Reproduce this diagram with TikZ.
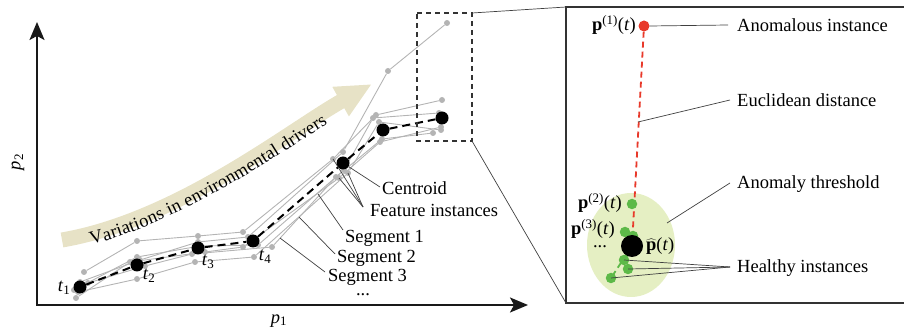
\documentclass[tikz,border=0pt]{standalone}
\usepackage{fontspec}
\setmainfont{Liberation Serif}
\usetikzlibrary{arrows.meta,decorations.text,shapes.geometric}

\definecolor{instgray}{HTML}{B4B4B4}
\definecolor{bandcol}{HTML}{E7E2C6}
\definecolor{anomred}{HTML}{E8392A}
\definecolor{healthy}{HTML}{5DB948}
\definecolor{zonecol}{HTML}{E5EFC3}
\definecolor{framegray}{HTML}{333333}

\tikzset{
  lbl/.style={font=\rmfamily\fontsize{18.5}{20}\selectfont, inner sep=0pt, anchor=base west},
  inst/.style={draw=instgray, line width=0.9pt},
  idot/.style={circle, fill=instgray, inner sep=0pt, minimum size=6pt},
  cdot/.style={circle, fill=black, inner sep=0pt, minimum size=13pt},
  gdot/.style={circle, fill=healthy, inner sep=0pt, minimum size=10.5pt},
  leader/.style={draw=black!75, line width=0.7pt},
  axisline/.style={line width=1.8pt, draw=black!90,
    {Stealth[length=18pt,width=15pt,inset=4pt]}-{Stealth[length=18pt,width=15pt,inset=4pt]}},
}

\begin{document}
\begin{tikzpicture}[x=1pt,y=-1pt]
\useasboundingbox (0,0) rectangle (904,336);

% ---------- axes ----------
\coordinate (ytip) at (37,22);
\coordinate (orig) at (37,305);
\coordinate (xtip) at (528,305);
\draw[axisline] (ytip) -- (orig) -- (xtip);
\node[font=\rmfamily\fontsize{18.5}{20}\selectfont, inner sep=0pt] (xlab) at (279,321) {\textit{p}\textsubscript{1}};
\node[font=\rmfamily\fontsize{18.5}{20}\selectfont, inner sep=0pt, rotate=90] (ylab) at (18,162) {\textit{p}\textsubscript{2}};

% ---------- environmental drivers band ----------
\draw[bandcol, line width=15pt, -{Triangle[length=36pt,width=31pt]}]
  (62,240) .. controls (178,220) and (290,130) .. (372,84);
\path[decorate, decoration={text along path,
    text={|\rmfamily\fontsize{18.5}{20}\selectfont|Variations in environmental drivers},
    text align={left indent=27pt}, raise=-11pt}]
  (62,240) .. controls (178,220) and (290,130) .. (372,84);

% ---------- feature instances ----------
\path \foreach \p [count=\j] in {(84,272),(137,241),(198,236),(243,232),(333,159),(376,115),(442,100)} {node[idot] (a\j) at \p {}};
\path \foreach \p [count=\j] in {(80,282),(140,260),(198,242),(248,237),(343,152),(388,71),(447,23)} {node[idot] (b\j) at \p {}};
\path \foreach \p [count=\j] in {(76,298),(130,262),(205,252),(243,247),(339,178),(380,142),(441,127)} {node[idot] (c\j) at \p {}};
\path \foreach \p [count=\j] in {(88,283),(145,266),(192,254),(272,247),(336,177),(382,139),(433,133)} {node[idot] (d\j) at \p {}};
\path \foreach \p [count=\j] in {(78,292),(137,279),(195,262),(254,257),(348,173),(379,122),(441,130)} {node[idot] (e\j) at \p {}};
\path \foreach \p [count=\j] in {(74,290),(137,257),(200,246),(258,245),(344,170),(373,118),(439,113)} {node[idot] (f\j) at \p {}};
\draw[inst] (a1) -- (a2) -- (a3) -- (a4) -- (a5) -- (a6) -- (a7);
\draw[inst] (b1) -- (b2) -- (b3) -- (b4) -- (b5) -- (b6) -- (b7);
\draw[inst] (c1) -- (c2) -- (c3) -- (c4) -- (c5) -- (c6) -- (c7);
\draw[inst] (d1) -- (d2) -- (d3) -- (d4) -- (d5) -- (d6) -- (d7);
\draw[inst] (e1) -- (e2) -- (e3) -- (e4) -- (e5) -- (e6) -- (e7);
\draw[inst] (f1) -- (f2) -- (f3) -- (f4) -- (f5) -- (f6) -- (f7);

% ---------- centroids ----------
\path \foreach \p [count=\j] in {(80,287),(137,265),(198,248),(253,241),(343,163),(383,130),(442,118)} {node[cdot] (m\j) at \p {}};
\draw[line width=2pt, dash pattern=on 8pt off 5pt]
  (m1) -- (m2) -- (m3) -- (m4) -- (m5) -- (m6) -- (m7);

\node[font=\rmfamily\fontsize{18.5}{20}\selectfont, inner sep=0pt] (t1) at (64,288) {\textit{t}\textsubscript{1}};
\node[font=\rmfamily\fontsize{18.5}{20}\selectfont, inner sep=0pt] (t2) at (149,276) {\textit{t}\textsubscript{2}};
\node[font=\rmfamily\fontsize{18.5}{20}\selectfont, inner sep=0pt] (t3) at (208,262) {\textit{t}\textsubscript{3}};
\node[font=\rmfamily\fontsize{18.5}{20}\selectfont, inner sep=0pt] (t4) at (265,257) {\textit{t}\textsubscript{4}};

% ---------- labels of the left plot ----------
\node[lbl] (lcen) at (382,195) {Centroid};
\node[lbl] (lfeat) at (370,217) {Feature instances};
\node[lbl] (lseg1) at (345,243) {Segment 1};
\node[lbl] (lseg2) at (337,263) {Segment 2};
\node[lbl] (lseg3) at (328,282) {Segment 3};
\node[lbl, anchor=base] (ldots) at (363,296) {...};

\coordinate (kcen) at (380,187);
\coordinate (kfeat) at (363,207);
\coordinate (kseg1) at (343,230);
\coordinate (kseg2) at (335,254);
\coordinate (kseg3) at (325,272);
\coordinate (sseg1) at (318,194);
\coordinate (sseg2) at (299,217);
\coordinate (sseg3) at (280,238);

\draw[leader] (m5) -- (kcen);
\draw[leader] (a5.center) -- (kfeat);
\draw[leader] (c5.center) -- (kfeat);
\draw[leader] (e5.center) -- (kfeat);
\draw[leader] (sseg1) -- (kseg1);
\draw[leader] (sseg2) -- (kseg2);
\draw[leader] (sseg3) -- (kseg3);

% ---------- zoom window ----------
\coordinate (zA) at (417,13);
\coordinate (zB) at (472,13);
\coordinate (zC) at (472,141);
\coordinate (zD) at (417,141);
\draw[framegray, line width=1.2pt, dash pattern=on 5pt off 4pt] (zA) -- (zB) -- (zC) -- (zD) -- cycle;

\coordinate (pTL) at (566,7);
\coordinate (pBL) at (566,303);
\coordinate (pTR) at (906,7);
\coordinate (pBR) at (906,303);
\draw[framegray, line width=1.3pt] (pTR) -- (pTL) -- (pBL) -- (pBR);
\draw[leader] (zB) -- (pTL);
\draw[leader] (zC) -- (pBL);

% ---------- detail panel ----------
\node[ellipse, fill=zonecol, minimum width=88pt, minimum height=104pt, inner sep=0pt] (zone) at (631,245) {};
\node[circle, fill=anomred, inner sep=0pt, minimum size=11pt] (an) at (644,26) {};
\node[circle, inner sep=0pt, minimum size=22pt] (cenpos) at (632,246) {};
\draw[anomred, line width=1.8pt, dash pattern=on 6pt off 4pt] (an) -- (cenpos.center);
\draw[healthy, line width=1.8pt, dash pattern=on 6pt off 4pt] (cenpos.center) -- (611,278);

\node[gdot] (g2) at (632,204) {};
\node[gdot] (g3a) at (625,232) {};
\node[gdot] (g3b) at (633,236) {};
\node[gdot] (h1) at (624,260) {};
\node[gdot] (h2) at (628,269) {};
\node[gdot] (h3) at (611,278) {};
\node[circle, fill=black, inner sep=0pt, minimum size=22pt] (cen) at (632,246) {};

\node[lbl, anchor=base east] (lp1) at (636,31) {\textbf{p}\textsuperscript{(1)}(\textit{t})};
\node[lbl, anchor=base east] (lp2) at (622,209) {\textbf{p}\textsuperscript{(2)}(\textit{t})};
\node[lbl, anchor=base east] (lp3) at (615,235) {\textbf{p}\textsuperscript{(3)}(\textit{t})};
\node[lbl, anchor=base] (lpd) at (600,248) {...};
\node[lbl] (lphat) at (646,251) {$\widehat{\textbf{p}}$(\textit{t})};

\node[lbl] (lanom) at (737,32) {Anomalous instance};
\node[lbl] (leuc) at (737,107) {Euclidean distance};
\node[lbl] (lthr) at (737,189) {Anomaly threshold};
\node[lbl] (lhea) at (737,273) {Healthy instances};

\coordinate (kanom) at (728,25);
\coordinate (keuc) at (730,100);
\coordinate (seuc) at (638,122);
\coordinate (kthr) at (730,183);
\coordinate (sthr) at (667,223);
\coordinate (khea) at (730,267);

\draw[leader] (an.east) -- (kanom);
\draw[leader] (seuc) -- (keuc);
\draw[leader] (sthr) -- (kthr);
\draw[leader] (h1.center) -- (khea);
\draw[leader] (h2.center) -- (khea);
\draw[leader] (h3.center) -- (khea);
\end{tikzpicture}
\end{document}
